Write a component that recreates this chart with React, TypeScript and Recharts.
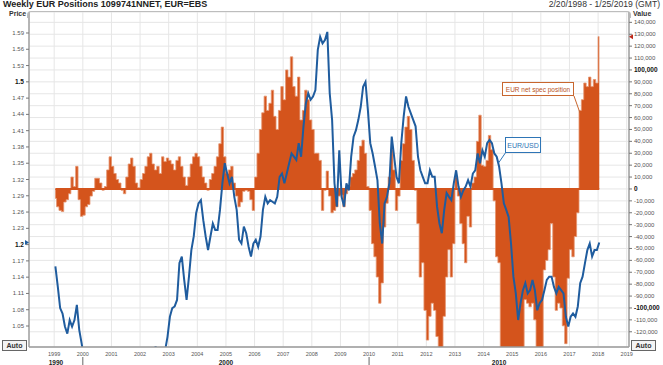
import React from 'react';
import {
  ComposedChart,
  Area,
  Line,
  XAxis,
  YAxis,
  CartesianGrid,
  ReferenceLine,
  ReferenceDot,
} from 'recharts';

const FONT = '"Liberation Sans", Arial, sans-serif';
const ORANGE = '#D4541C';
const ORANGE_TIP = '#E49470';
const BLUE = '#1F5C9E';

const START_YEAR = 1999;

// EUR net speculative position (contracts), one value per month, Jan 1999 .. Jan 2018
const netSpec = [
  -8000, -15000, -18000, -19000, -11000, -9000, -4000, 10000, 2000, 19000, -9000, -23000, // 1999
  -22000, -15000, -13000, -6000, -2000, 9000, 9000, 5000, -1000, 2000, 16000, 27000, // 2000
  19000, 13000, 8000, 5000, -1000, -4000, 10000, 21000, 26000, 19000, 5000, 1000, // 2001
  8000, 13000, 19000, 27000, 30000, 21000, 16000, 19000, 13000, 27000, 23000, 26000, // 2002
  24000, 21000, 16000, 24000, 27000, 19000, 10000, 3000, 10000, 21000, 27000, 30000, // 2003
  27000, 19000, 10000, 5000, -1000, 8000, 13000, 19000, 27000, 38000, 52000, 27000, // 2004
  13000, 16000, 19000, 5000, -6000, -15000, -11000, -2000, -1000, -2000, -9000, -18000, // 2005
  10000, 30000, 50000, 64000, 78000, 66000, 72000, 83000, 61000, 50000, 66000, 86000, // 2006
  75000, 100000, 94000, 111000, 86000, 78000, 94000, 58000, 66000, 83000, 75000, 58000, // 2007
  50000, 30000, 30000, 24000, -18000, -1000, 15000, -6000, -20000, -18000, -15000, -6000, // 2008
  -5000, -15000, -4000, 2000, 10000, 13000, 16000, 24000, 36000, 41000, 30000, 2000, // 2009
  -18000, -46000, -57000, -74000, -96000, -79000, -32000, -12000, 10000, 33000, 16000, -18000, // 2010
  -6000, 24000, 38000, 52000, 61000, 50000, 24000, -1000, -29000, -74000, -62000, -102000, // 2011
  -127000, -107000, -96000, -102000, -124000, -140000, -138000, -107000, -74000, -51000, -74000, -46000, // 2012
  10000, -6000, -29000, -46000, -62000, -23000, -32000, 5000, 10000, 40000, 62000, 20000, // 2013
  19000, 24000, 45000, 33000, -10000, -57000, -62000, -140000, -150000, -150000, -155000, -160000, // 2014
  -170000, -180000, -190000, -160000, -140000, -93000, -96000, -99000, -96000, -110000, -150000, -140000, // 2015
  -140000, -68000, -60000, -51000, -29000, -74000, -102000, -96000, -100000, -115000, -130000, -75000, // 2016
  -51000, -57000, -40000, -20000, 66000, 75000, 89000, 86000, 94000, 86000, 92000, 89000, // 2017
  128000, // 2018
];

// EUR/USD, one value per month, Jan 1999 .. Jan 2018
const eurUsd = [
  1.16, 1.123, 1.083, 1.073, 1.049, 1.036, 1.061, 1.049, 1.061, 1.089, 1.043, 1.018, // 1999
  0.99, 0.97, 0.96, 0.93, 0.91, 0.95, 0.94, 0.9, 0.87, 0.85, 0.86, 0.92, // 2000
  0.94, 0.92, 0.89, 0.89, 0.86, 0.85, 0.87, 0.91, 0.91, 0.9, 0.89, 0.89, // 2001
  0.87, 0.87, 0.88, 0.89, 0.92, 0.96, 1.013, 0.98, 0.98, 0.98, 1.005, 1.03, // 2002
  1.067, 1.083, 1.086, 1.098, 1.166, 1.178, 1.135, 1.098, 1.141, 1.19, 1.215, 1.258, // 2003
  1.276, 1.282, 1.245, 1.215, 1.19, 1.215, 1.239, 1.227, 1.227, 1.264, 1.313, 1.35, // 2004
  1.331, 1.313, 1.325, 1.288, 1.264, 1.209, 1.202, 1.233, 1.221, 1.196, 1.178, 1.202, // 2005
  1.209, 1.196, 1.215, 1.264, 1.288, 1.276, 1.282, 1.279, 1.276, 1.288, 1.325, 1.331, // 2006
  1.313, 1.331, 1.35, 1.368, 1.362, 1.356, 1.387, 1.362, 1.418, 1.46, 1.479, 1.467, // 2007
  1.473, 1.485, 1.559, 1.583, 1.571, 1.577, 1.592, 1.479, 1.43, 1.313, 1.27, 1.374, // 2008
  1.288, 1.27, 1.313, 1.3, 1.362, 1.399, 1.411, 1.43, 1.454, 1.491, 1.5, 1.448, // 2009
  1.387, 1.368, 1.344, 1.319, 1.239, 1.202, 1.276, 1.288, 1.313, 1.399, 1.362, 1.325, // 2010
  1.313, 1.387, 1.436, 1.473, 1.454, 1.442, 1.43, 1.418, 1.362, 1.337, 1.325, 1.313, // 2011
  1.313, 1.337, 1.325, 1.325, 1.27, 1.239, 1.221, 1.264, 1.295, 1.288, 1.282, 1.313, // 2012
  1.337, 1.307, 1.288, 1.3, 1.307, 1.319, 1.307, 1.331, 1.337, 1.368, 1.35, 1.374, // 2013
  1.362, 1.387, 1.393, 1.387, 1.368, 1.362, 1.344, 1.313, 1.276, 1.264, 1.251, 1.202, // 2014
  1.141, 1.11, 1.061, 1.092, 1.116, 1.129, 1.11, 1.116, 1.135, 1.116, 1.079, 1.092, // 2015
  1.098, 1.116, 1.135, 1.141, 1.141, 1.122, 1.11, 1.122, 1.116, 1.11, 1.067, 1.049, // 2016
  1.067, 1.073, 1.067, 1.086, 1.129, 1.141, 1.166, 1.19, 1.202, 1.178, 1.19, 1.19, // 2017
  1.204, // 2018
];

const yearTicks = [
  1999, 2000, 2001, 2002, 2003, 2004, 2005, 2006, 2007, 2008, 2009,
  2010, 2011, 2012, 2013, 2014, 2015, 2016, 2017, 2018, 2019,
];
const priceTicks = [
  1.05, 1.08, 1.11, 1.14, 1.17, 1.2, 1.23, 1.26, 1.29, 1.32,
  1.35, 1.38, 1.41, 1.44, 1.47, 1.5, 1.53, 1.56, 1.59,
];
const valueTicks = [
  -120000, -110000, -100000, -90000, -80000, -70000, -60000, -50000, -40000, -30000,
  -20000, -10000, 0, 10000, 20000, 30000, 40000, 50000, 60000, 70000, 80000, 90000,
  100000, 110000, 120000, 130000, 140000,
];
const boldPrices = [1.2, 1.5];
const boldValues = [-100000, 0, 100000];
const decades = [1990, 2000, 2010];

const X_DOMAIN = [1998.12, 2019.08];
const PRICE_DOMAIN = [1.0113, 1.6287];
const VALUE_DOMAIN = [-132800, 148700];

// decade labels sit in the middle of the visible part of each decade
const decadeMid = decades.map(
  (d) => (Math.max(d, X_DOMAIN[0]) + Math.min(d + 10, X_DOMAIN[1])) / 2
);
const decadeBounds = decades.filter((d) => d > X_DOMAIN[0]);
const decadeTicks = [...decadeMid, ...decadeBounds].sort((a, b) => a - b);

const fmtPrice = (v: number) => String(Number(v.toFixed(2)));
const fmtValue = (v: number) => v.toLocaleString('en-US');
const near = (list: number[], v: number) => list.some((b) => Math.abs(b - v) < 1e-6);

const YearTick = ({ x, y, payload }: any) => (
  <text x={x} y={y + 9} textAnchor="middle" fontSize={5.5} fill="#555" fontFamily={FONT}>
    {payload.value}
  </text>
);

const DecadeTick = ({ x, y, payload }: any) => {
  const idx = decadeMid.findIndex((m) => Math.abs(m - payload.value) < 1e-6);
  if (idx >= 0) {
    return (
      <text x={x} y={y + 8.5} textAnchor="middle" fontSize={6.5} fontWeight="bold" fill="#222" fontFamily={FONT}>
        {decades[idx]}
      </text>
    );
  }
  return <line x1={x} x2={x} y1={y + 1} y2={y + 9} stroke="#666" strokeWidth={1} />;
};

const PriceTick = ({ x, y, payload }: any) => {
  const bold = near(boldPrices, payload.value);
  return (
    <text
      x={x}
      y={y}
      dy={2}
      textAnchor="end"
      fontSize={bold ? 6.5 : 6}
      fontWeight={bold ? 'bold' : 'normal'}
      fill={bold ? '#111' : '#555'}
      fontFamily={FONT}
    >
      {fmtPrice(payload.value)}
    </text>
  );
};

const ValueTick = ({ x, y, payload }: any) => {
  const bold = near(boldValues, payload.value);
  return (
    <text
      x={x}
      y={y}
      dy={2}
      textAnchor="start"
      fontSize={bold ? 6.5 : 6}
      fontWeight={bold ? 'bold' : 'normal'}
      fill={bold ? '#111' : '#555'}
      fontFamily={FONT}
    >
      {fmtValue(payload.value)}
    </text>
  );
};

const autoBox: React.CSSProperties = {
  position: 'absolute',
  width: 23,
  height: 9,
  border: '1px solid #666',
  fontSize: 7,
  fontWeight: 'bold',
  lineHeight: '9px',
  textAlign: 'center',
  color: '#333',
  background: '#f4f4f4',
};

export default function App() {
  const data = netSpec.map((v, i) => ({
    t: START_YEAR + (i + 0.5) / 12,
    pos: v,
    price: eurUsd[i],
  }));
  const firstT = data[0].t;
  const lastT = data[data.length - 1].t;

  return (
    <div
      style={{
        position: 'absolute',
        left: 0,
        top: 0,
        width: 663,
        height: 365,
        background: '#fff',
        fontFamily: FONT,
        overflow: 'hidden',
      }}
    >
      <div style={{ position: 'absolute', left: 3, top: -1, fontSize: 9, fontWeight: 'bold', color: '#222' }}>
        Weekly EUR Positions 1099741NNET, EUR=EBS
      </div>
      <div style={{ position: 'absolute', right: 3, top: -1, fontSize: 8.6, color: '#333' }}>
        2/20/1998 - 1/25/2019 (GMT)
      </div>
      <div style={{ position: 'absolute', left: 9, top: 10, fontSize: 7, fontWeight: 'bold', color: '#333' }}>
        Price
      </div>
      <div style={{ position: 'absolute', left: 633, top: 10, fontSize: 7, fontWeight: 'bold', color: '#333' }}>
        Value
      </div>

      <ComposedChart
        width={663}
        height={365}
        data={data}
        margin={{ top: 12, right: 0, bottom: 0, left: 0 }}
      >
        <CartesianGrid yAxisId="value" stroke="#e6e6e6" strokeWidth={1} />
        <XAxis
          dataKey="t"
          type="number"
          domain={X_DOMAIN}
          allowDataOverflow
          ticks={yearTicks}
          interval={0}
          height={9}
          tickSize={0}
          tickMargin={0}
          tickLine={false}
          axisLine={{ stroke: '#9a9a9a', strokeWidth: 1.5 }}
          tick={<YearTick />}
        />
        <XAxis
          xAxisId="decade"
          dataKey="t"
          type="number"
          domain={X_DOMAIN}
          allowDataOverflow
          ticks={decadeTicks}
          interval={0}
          height={9}
          tickSize={0}
          tickMargin={0}
          tickLine={false}
          axisLine={false}
          tick={<DecadeTick />}
        />
        <YAxis
          yAxisId="price"
          orientation="left"
          width={29}
          type="number"
          domain={PRICE_DOMAIN}
          allowDataOverflow
          ticks={priceTicks}
          interval={0}
          tickSize={3}
          tickMargin={2}
          tickLine={{ stroke: '#777' }}
          axisLine={{ stroke: '#a0a0a0', strokeWidth: 1.5 }}
          tick={<PriceTick />}
        />
        <YAxis
          yAxisId="value"
          orientation="right"
          width={34}
          type="number"
          domain={VALUE_DOMAIN}
          allowDataOverflow
          ticks={valueTicks}
          interval={0}
          tickSize={3}
          tickMargin={2}
          tickLine={{ stroke: '#777' }}
          axisLine={{ stroke: '#a0a0a0', strokeWidth: 1.5 }}
          tick={<ValueTick />}
        />
        <Area
          yAxisId="value"
          dataKey="pos"
          type="step"
          baseValue={0}
          fill={ORANGE}
          fillOpacity={1}
          stroke={ORANGE_TIP}
          strokeWidth={0.8}
          isAnimationActive={false}
        />
        <ReferenceLine
          yAxisId="value"
          segment={[
            { x: firstT, y: 0 },
            { x: lastT, y: 0 },
          ]}
          stroke={ORANGE}
          strokeWidth={2}
        />
        <Line
          yAxisId="price"
          dataKey="price"
          type="linear"
          stroke={BLUE}
          strokeWidth={2}
          dot={false}
          isAnimationActive={false}
        />
        <ReferenceDot
          yAxisId="price"
          x={X_DOMAIN[0]}
          y={eurUsd[eurUsd.length - 1]}
          ifOverflow="visible"
          shape={(p: any) => (
            <path d={`M${p.cx - 4},${p.cy - 2.5} L${p.cx},${p.cy} L${p.cx - 4},${p.cy + 2.5}Z`} fill={BLUE} />
          )}
        />
        <ReferenceDot
          yAxisId="value"
          x={X_DOMAIN[1]}
          y={netSpec[netSpec.length - 1]}
          ifOverflow="visible"
          shape={(p: any) => (
            <path d={`M${p.cx + 4},${p.cy - 2.5} L${p.cx},${p.cy} L${p.cx + 4},${p.cy + 2.5}Z`} fill="#C0281A" />
          )}
        />
      </ComposedChart>

      {/* plot frame top edge */}
      <div
        style={{
          position: 'absolute',
          left: 27,
          top: 11,
          width: 602,
          height: 6,
          borderTop: '1px solid #bdbdbd',
          borderLeft: '1px solid #bdbdbd',
          borderRight: '1px solid #bdbdbd',
          borderRadius: '4px 4px 0 0',
        }}
      />

      {/* callouts */}
      <svg
        width={663}
        height={365}
        style={{ position: 'absolute', left: 0, top: 0, pointerEvents: 'none' }}
      >
        <line x1={574} y1={96} x2={580} y2={113} stroke="#C8662E" strokeWidth={1} />
        <rect x={502.5} y={82.5} width={71} height={13} fill="#fff" stroke="#C8662E" strokeWidth={1} />
        <text x={538} y={91.5} textAnchor="middle" fontSize={6.5} fill="#B9531B" fontFamily={FONT}>
          EUR net spec position
        </text>
        <line x1={506} y1={152} x2={498.5} y2={163} stroke="#2E75B6" strokeWidth={1} />
        <rect x={505.5} y={137.5} width={35} height={15} fill="#fff" stroke="#2E75B6" strokeWidth={1} />
        <text x={523} y={147.5} textAnchor="middle" fontSize={7} fill="#2E75B6" fontFamily={FONT}>
          EUR/USD
        </text>
      </svg>

      <div style={{ ...autoBox, left: 2, top: 340 }}>Auto</div>
      <div style={{ ...autoBox, left: 631, top: 340 }}>Auto</div>
    </div>
  );
}
